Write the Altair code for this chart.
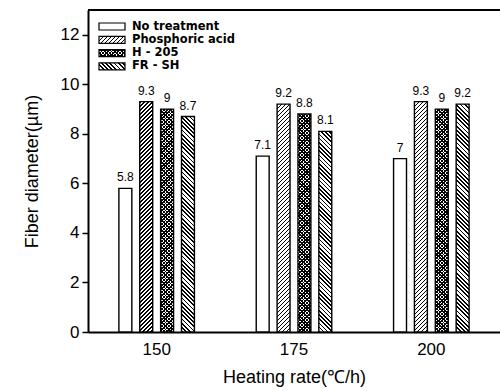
import altair as alt
import pandas as pd

# ---- data ----
groups = ["150", "175", "200"]
series = ["No treatment", "Phosphoric acid", "H - 205", "FR - SH"]
no_treatment = [5.8, 7.1, 7.0]
phosphoric = [9.3, 9.2, 9.3]
h205 = [9.0, 8.8, 9.0]
frsh = [8.7, 8.1, 9.2]
values_by_series = [no_treatment, phosphoric, h205, frsh]
y_ticks = [0, 2, 4, 6, 8, 10, 12]

# ---- layout ----
W, H = 412, 322
YMAX = 13
X_PAD_IN, X_PAD_OUT = 0.45, 0.225
XO_PAD_IN = 0.38

rows = []
for gi, g in enumerate(groups):
    for si, s in enumerate(series):
        rows.append({"group": g, "series": s, "value": values_by_series[si][gi]})
df = pd.DataFrame(rows)

# pixel width of one bar (for hatch geometry)
x_step = W / (len(groups) - X_PAD_IN + 2 * X_PAD_OUT)
x_band = x_step * (1 - X_PAD_IN)
xo_step = x_band / (len(series) - XO_PAD_IN)
BAR_W = xo_step * (1 - XO_PAD_IN)


def stripes(w, h, period, frac, ink, paper, direction):
    """Hatch pattern as a linear gradient in bounding-box units."""
    L = w + h
    xk = L * w / (w * w + h * h)
    yk = xk * h / w
    if direction == "/":
        x1, y1, x2, y2 = 0, 0, xk, yk
    else:
        x1, y1, x2, y2 = 0, 1, xk, 1 - yk
    stops = []
    k = 0
    while k * period < L:
        a = min(k * period / L, 1)
        b = min((k * period + period * frac) / L, 1)
        c = min((k + 1) * period / L, 1)
        stops += [
            {"offset": a, "color": ink},
            {"offset": b, "color": ink},
            {"offset": b, "color": paper},
            {"offset": c, "color": paper},
        ]
        k += 1
    return {"gradient": "linear", "x1": x1, "y1": y1, "x2": x2, "y2": y2, "stops": stops}


def fills_for(s, w, h):
    if s == "No treatment":
        return ["white"]
    if s == "Phosphoric acid":
        return [stripes(w, h, 4.0, 0.42, "black", "white", "/")]
    if s == "H - 205":
        return [stripes(w, h, 3.4, 0.45, "black", "white", "/"),
                stripes(w, h, 3.4, 0.45, "black", "rgba(0,0,0,0)", "\\")]
    return [stripes(w, h, 4.2, 0.42, "black", "white", "\\")]


FONT = "Liberation Sans"

x_enc = alt.X(
    "group:N",
    scale=alt.Scale(domain=groups, paddingInner=X_PAD_IN, paddingOuter=X_PAD_OUT),
    axis=alt.Axis(title="Heating rate(℃/h)", labelAngle=0, ticks=False, labelPadding=9,
                  titlePadding=11),
)
xo_enc = alt.XOffset("series:N", scale=alt.Scale(domain=series, paddingInner=XO_PAD_IN, paddingOuter=0))
y_enc = alt.Y(
    "value:Q",
    scale=alt.Scale(domain=[0, YMAX], nice=False),
    axis=alt.Axis(title="Fiber diameter(µm)", values=y_ticks, grid=False, tickSize=6,
                  labelPadding=3, titlePadding=19),
)

base = alt.Chart(df).encode(x=x_enc, xOffset=xo_enc, y=y_enc)

layers = []
for gi, g in enumerate(groups):
    for si, s in enumerate(series):
        v = values_by_series[si][gi]
        h = v * H / YMAX
        fl = fills_for(s, BAR_W, h)
        sel = base.transform_filter(
            (alt.datum.group == g) & (alt.datum.series == s)
        )
        for k, f in enumerate(fl):
            last = k == len(fl) - 1
            if last:
                layers.append(sel.mark_bar(fill=f, stroke="black", strokeWidth=1.4))
            else:
                layers.append(sel.mark_bar(fill=f, strokeWidth=0))

labels = base.mark_text(baseline="bottom", dy=-4, font=FONT, fontSize=12, color="black").encode(
    text=alt.Text("value:Q", format="~g")
)
layers.append(labels)

# top frame line
top = alt.Chart(pd.DataFrame({"a": [0]})).mark_rule(color="black", strokeWidth=2).encode(
    y=alt.value(0)
)
layers.append(top)

# legend
LEG_X, LEG_W, LEG_H, LEG_Y0, LEG_DY = 11, 26, 7, 13, 13.3
for i, s in enumerate(series):
    ldf = pd.DataFrame({"series": [s]})
    y0 = LEG_Y0 + i * LEG_DY
    fl = fills_for(s, LEG_W, LEG_H)
    for k, f in enumerate(fl):
        last = k == len(fl) - 1
        kw = dict(fill=f, stroke="black", strokeWidth=1.2) if last else dict(fill=f, strokeWidth=0)
        layers.append(
            alt.Chart(ldf).mark_rect(**kw).encode(
                x=alt.value(LEG_X), x2=alt.value(LEG_X + LEG_W),
                y=alt.value(y0), y2=alt.value(y0 + LEG_H),
            )
        )
    layers.append(
        alt.Chart(ldf).mark_text(align="left", baseline="middle", font="DejaVu Sans",
                                 fontWeight="bold", fontSize=11.5, color="black").encode(
            x=alt.value(LEG_X + LEG_W + 7), y=alt.value(y0 + LEG_H / 2), text="series:N"
        )
    )

chart = alt.layer(*layers).properties(
    width=W, height=H,
    autosize=alt.AutoSizeParams(type="none"),
    padding={"left": 88, "top": 10, "right": 0, "bottom": 59},
    background="white",
).configure_view(stroke=None).configure_axis(
    domainColor="black", domainWidth=2, tickColor="black", tickWidth=1.5,
    labelColor="black", titleColor="black", labelFont=FONT, titleFont=FONT,
    labelFontSize=17, titleFontSize=18, titleFontWeight="normal",
)

chart.save("out.html", embed_options={"renderer": "svg", "actions": False})
